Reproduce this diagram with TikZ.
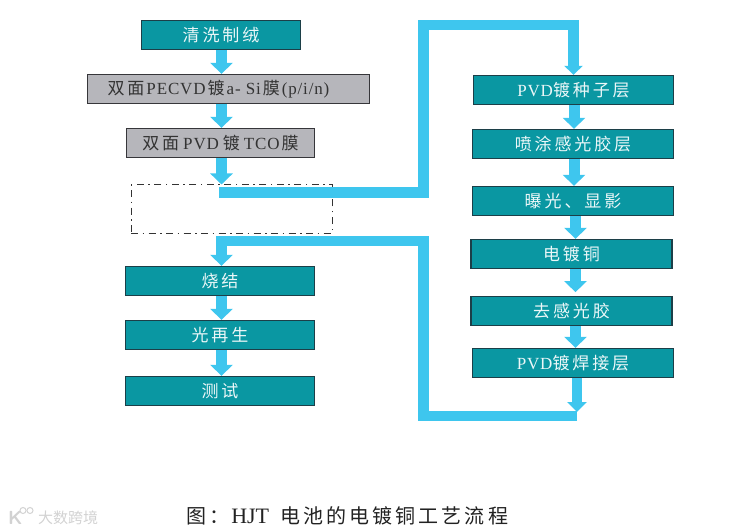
\documentclass[tikz,border=0pt]{standalone}
\usepackage{fontspec}
\usetikzlibrary{arrows.meta}
\newfontfamily\cjk[LetterSpace=17]{Noto Sans CJK SC}
\newfontfamily\cjktight{Noto Sans CJK SC}
\newfontfamily\capcjk[LetterSpace=15.5]{Noto Sans CJK SC}
\newfontfamily\lat[LetterSpace=5]{Liberation Serif}
\newfontfamily\caplat{Liberation Serif}
\definecolor{tealfill}{HTML}{0A97A2}
\definecolor{tealedge}{HTML}{1C3F48}
\definecolor{grayfill}{HTML}{B6B6BB}
\definecolor{grayedge}{HTML}{36363A}
\definecolor{flowblue}{HTML}{3EC6EE}
\definecolor{captext}{HTML}{222222}
\definecolor{wmark}{HTML}{D2D2D2}
\tikzset{
  basebox/.style={draw,line width=1.3pt,inner sep=0pt,minimum height=29pt,font=\fontsize{17}{19}\selectfont\cjk},
  tealbox/.style={basebox,fill=tealfill,draw=tealedge,text=white!92!tealfill},
  graybox/.style={basebox,fill=grayfill,draw=grayedge,text=black!80},
  dashbox/.style={draw=black!80,line width=1pt,inner sep=0pt,minimum width=201pt,minimum height=48pt,dash pattern=on 7pt off 4.5pt on 1.5pt off 4.5pt},
  flow/.style={draw=flowblue,line width=11pt,-{Triangle[length=11pt,width=22pt,fill=flowblue]}},
  flowwide/.style={flow,line width=10.5pt,-{Triangle[length=9pt,width=18pt,fill=flowblue]}}
}
\begin{document}
\begin{tikzpicture}[x=1pt,y=-1pt]
\useasboundingbox (0,0) rectangle (750,532);
% nodes
\node[tealbox,minimum width=159pt] (clean) at (221,35) {清洗制绒};
\node[graybox,minimum width=282pt] (pecvd) at (228.5,89) {双面\hspace{2pt}{\lat PECVD}\hspace{2pt}镀\hspace{2pt}{\lat a- Si}\hspace{2pt}{\cjktight 膜}\hspace{2pt}{\lat (p/i/n)}\hspace{20pt}\mbox{}};
\node[graybox,minimum width=188pt] (tco) at (220.5,143) {双面\hspace{4pt}{\lat PVD}\hspace{4pt}镀\hspace{4pt}{\lat TCO}\hspace{2pt}膜};
\node[dashbox] (gap) at (231.5,209) {};
\node[tealbox,minimum width=200pt] (seed) at (573.5,90) {{\lat PVD}镀种子层};
\node[tealbox,minimum width=201pt] (spray) at (573,144) {喷涂感光胶层};
\node[tealbox,minimum width=201pt] (expose) at (573,201) {曝光、显影};
\node[tealbox,minimum width=201pt] (plate) at (571.5,254) {电镀铜};
\node[tealbox,minimum width=201pt] (strip) at (571.5,311) {去感光胶};
\node[tealbox,minimum width=201pt] (weld) at (573,363) {{\lat PVD}镀焊接层};
\node[tealbox,minimum width=189pt] (sinter) at (220,281) {烧结};
\node[tealbox,minimum width=189pt] (regen) at (220,335) {光再生};
\node[tealbox,minimum width=189pt] (test) at (220,391) {测试};
% free ends and columns
\coordinate (colL) at (221.5,0);
\coordinate (colR) at (574,0);
\coordinate (colS) at (575.5,0);
\coordinate (outStart) at (219,192.5);
\coordinate (outTurn) at (423.5,25);
\coordinate (retTurn) at (423.5,241);
\coordinate (retBase) at (423.5,416);
\coordinate (weldTip) at (577,412);
\coordinate (retStart) at (577,416);
\coordinate (retCorner) at (221.5,241);
% connectors
\draw[flow] (colL |- clean.south) -- (colL |- pecvd.north);
\draw[flow] (colL |- pecvd.south) -- (colL |- tco.north);
\draw[flow] (colL |- tco.south) -- (colL |- gap.north);
\draw[flow] (colR |- seed.south) -- (colR |- spray.north);
\draw[flow] (colR |- spray.south) -- (colR |- expose.north);
\draw[flow] (colS |- expose.south) -- (colS |- plate.north);
\draw[flow] (colS |- plate.south) -- ++(0,23);
\draw[flow] (colS |- strip.south) -- (colS |- weld.north);
\draw[flowwide] (outStart) -- (outStart -| outTurn) -- (outTurn) -- (outTurn -| seed.north) -- (seed.north);
\draw[flow,line width=10pt,-{Triangle[length=10pt,width=19pt,fill=flowblue]}] (weldTip |- weld.south) -- (weldTip);
\draw[flow,line width=10.5pt] (retStart) -- (retBase) -- (retTurn) -- (retCorner) -- (retCorner |- sinter.north);
\draw[flow] (colL |- sinter.south) -- (colL |- regen.north);
\draw[flow] (colL |- regen.south) -- (colL |- test.north);
% caption
\node[anchor=west,inner sep=0pt,text=captext,font=\fontsize{20}{22}\selectfont\capcjk] (cap) at (186,516) {图：\hspace{2pt}{\fontsize{22}{22}\selectfont\caplat HJT}\hspace{11pt}电池的电镀铜工艺流程};
% watermark
\node[anchor=west,inner sep=0pt,text=wmark,font=\fontsize{15}{15}\selectfont\cjktight] (wm) at (38,518) {大数跨境};
\node[anchor=west,inner sep=0pt,text=wmark,font=\fontsize{19}{19}\selectfont\bfseries\sffamily] (wk) at (8,518) {K};
\draw[wmark,line width=1pt] (23,510.5) circle (3);
\draw[wmark,line width=1pt] (30,510.5) circle (3);
\end{tikzpicture}
\end{document}
